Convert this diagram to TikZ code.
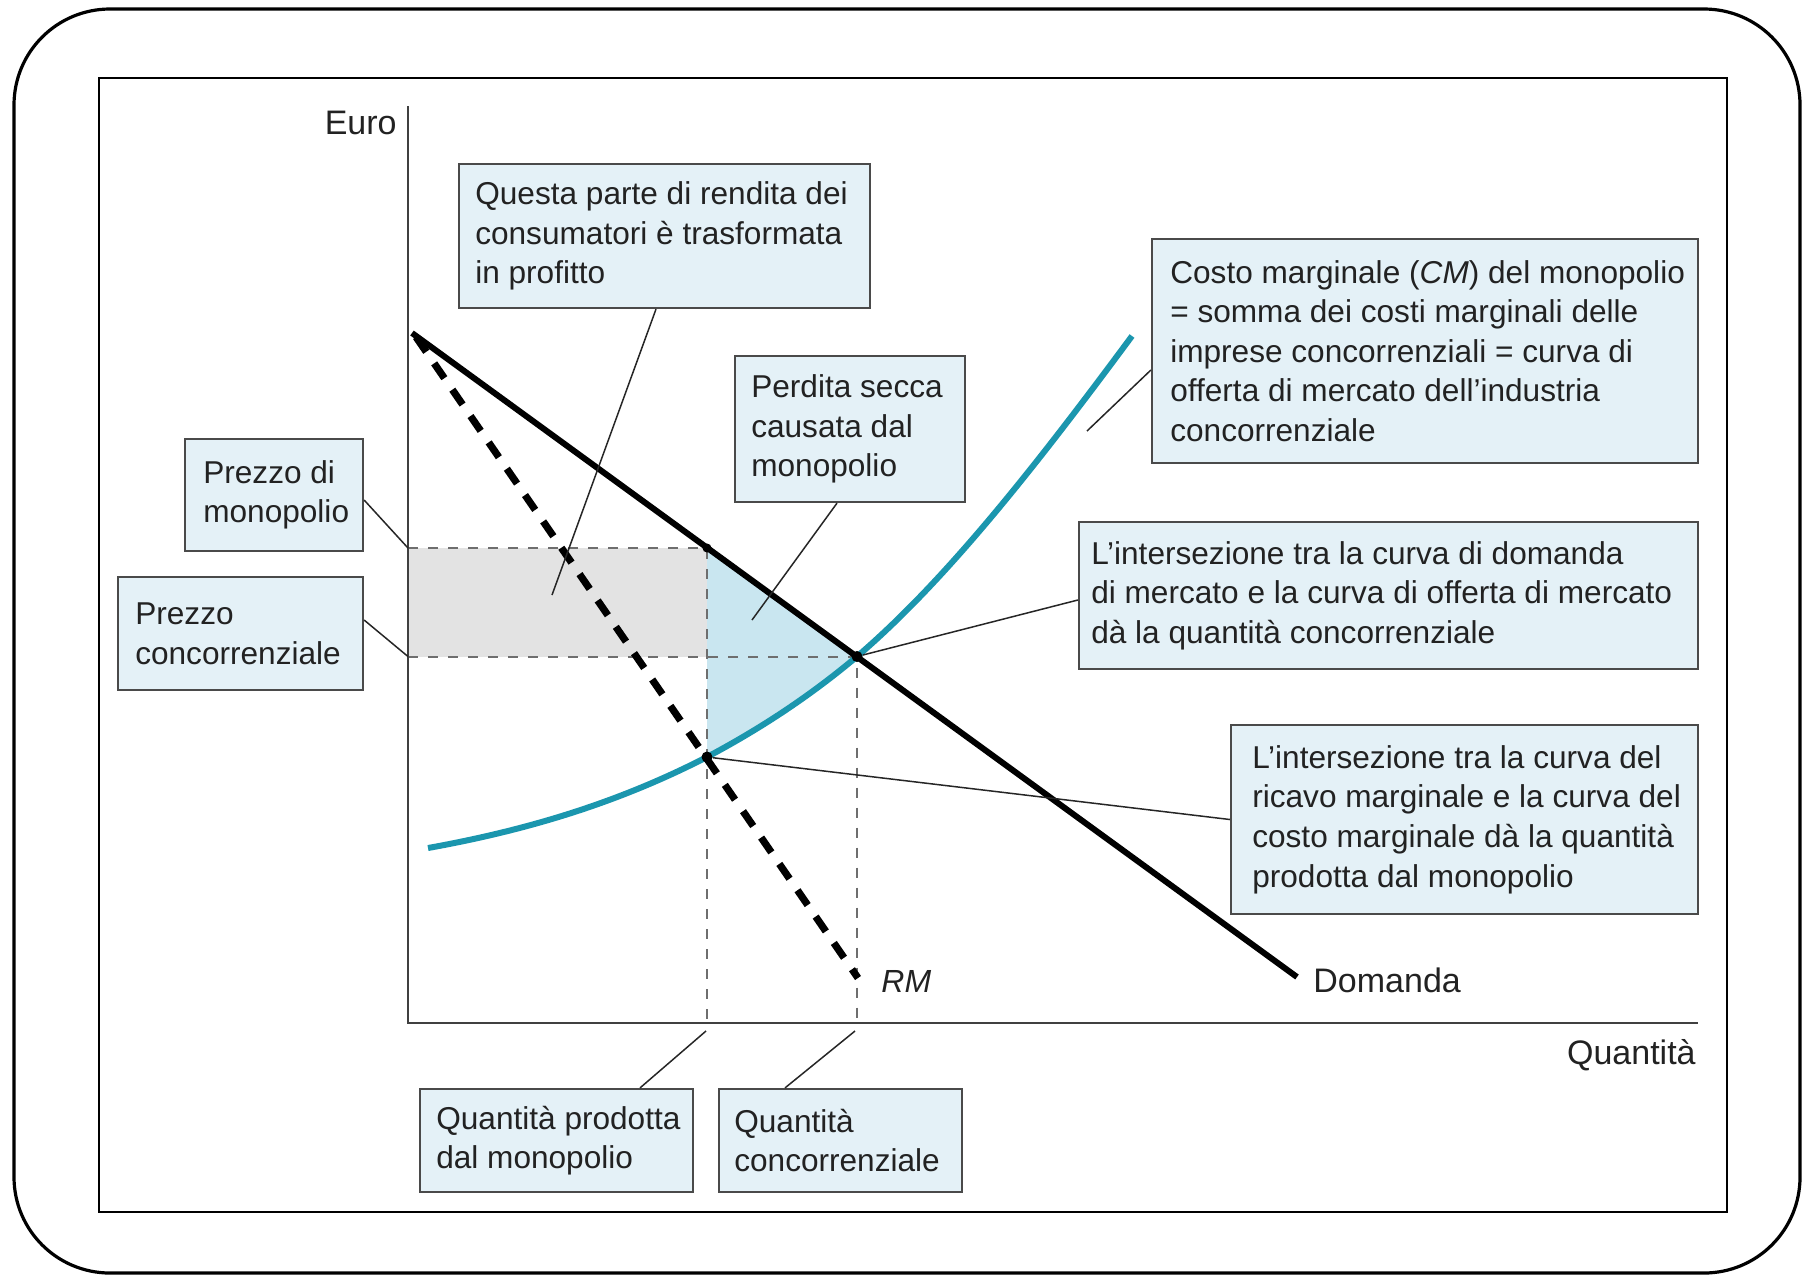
\documentclass[tikz,border=0pt]{standalone}
\usepackage{fontspec}
\setmainfont{Liberation Sans}
\usetikzlibrary{calc}
\definecolor{boxfill}{HTML}{E4F1F7}
\definecolor{boxdraw}{HTML}{4A4A4A}
\definecolor{teal1}{HTML}{1B96AE}
\definecolor{lblue}{HTML}{C9E6F0}
\definecolor{lgray}{HTML}{E3E3E3}
\definecolor{guidegray}{HTML}{6E6E6E}
\definecolor{txt}{HTML}{222222}
\tikzset{
  cbox/.style={draw=boxdraw, fill=boxfill, line width=1.1pt, inner sep=0pt},
  ctext/.style={anchor=west, align=left, inner sep=0pt, font=\fontsize{15.8}{19.8}\selectfont, text=txt},
  axlabel/.style={inner sep=0pt, font=\fontsize{17}{20}\selectfont, text=txt},
  leader/.style={draw=black!85, line width=0.75pt},
  guide/.style={draw=guidegray, line width=1pt, dash pattern=on 5pt off 5pt},
  demandline/.style={line width=3pt, black},
  rmline/.style={line width=3.6pt, black, dash pattern=on 9pt off 7pt},
  mcline/.style={line width=3pt, teal1},
  dotmark/.style={circle, fill=black, inner sep=0pt, minimum size=5.5pt},
}
\begin{document}
\begin{tikzpicture}[x=0.5pt,y=-0.5pt]
\useasboundingbox (0,0) rectangle (1803,1276);
% frames
\draw[line width=1.6pt, rounded corners=48pt] (14,9) rectangle (1800,1273);
\draw[line width=1.1pt] (99,78) rectangle (1727,1212);

% key coordinates
\coordinate (ytop) at (408,106);
\coordinate (orig) at (408,1023);
\coordinate (xend) at (1698,1023);
\coordinate (pm) at (707,548);
\coordinate (mp) at (707,757);
\coordinate (ce) at (857,656.5);
\coordinate (ypm) at (408,548);
\coordinate (ypc) at (408,656.5);
\coordinate (xqm) at (707,1023);
\coordinate (xqc) at (857,1023);
\coordinate (d0) at (412,333);
\coordinate (d1) at (1297,977);
\coordinate (r0) at (416,337);
\coordinate (r1) at (858,978);
\coordinate (c0) at (428,848);
\coordinate (c3) at (1132,336);

% shaded areas
\fill[lgray] (ypm) rectangle (707,656.5);
\fill[lblue] (pm) -- (ce) .. controls (806.7,698.8) and (756.3,730.8) .. (mp) -- cycle;

% guides
\draw[guide] (ypm) -- (pm) -- (xqm);
\draw[guide] (ypc) -- (ce) -- (xqc);

% axes
\draw[line width=1.1pt, black!75] (ytop) -- (orig) -- (xend);

% curves
\draw[mcline] (c0) .. controls (520.7,831.3) and (613.3,805.2) .. (mp)
  .. controls (756.3,730.8) and (806.7,698.8) .. (ce)
  .. controls (948.7,578) and (1040.3,459.8) .. (c3);
\draw[demandline] (d0) -- (d1);
\draw[rmline] (r0) -- (r1);

% dots
\node[dotmark, minimum size=4.5pt] (dpm) at (pm) {};
\node[dotmark] (dmp) at (mp) {};
\node[dotmark] (dce) at (ce) {};

% axis labels
\node[axlabel, anchor=base east] (euro) at (397,134) {Euro};
\node[axlabel, anchor=base east] (quant) at (1696,1064) {Quantità};
\node[axlabel, anchor=base west] (dom) at (1313,992) {Domanda};
\node[axlabel, anchor=base west, font=\fontsize{16}{19}\selectfont\itshape] (rm) at (881,992) {RM};

% leader end coordinates
\coordinate (qend) at (552,595);
\coordinate (pend) at (752,620);
\coordinate (cmend) at (1087,431);
\coordinate (qmend) at (706,1031);
\coordinate (qcend) at (855,1031);

% boxes
\node[cbox, minimum width=205.5pt, minimum height=72pt] (bq) at (664.5,236) {};
\node[cbox, minimum width=115pt, minimum height=73pt] (bp) at (850,429) {};
\node[cbox, minimum width=273pt, minimum height=112pt] (bc) at (1425,351) {};
\node[cbox, minimum width=309.5pt, minimum height=73.5pt] (bd) at (1388.5,595.5) {};
\node[cbox, minimum width=233.5pt, minimum height=94.5pt] (br) at (1464.5,819.5) {};
\node[cbox, minimum width=89pt, minimum height=56pt] (bpm) at (274,495) {};
\node[cbox, minimum width=122.5pt, minimum height=56.5pt] (bpc) at (240.5,633.5) {};
\node[cbox, minimum width=136.5pt, minimum height=51.5pt] (bqm) at (556.5,1140.5) {};
\node[cbox, minimum width=121.5pt, minimum height=51.5pt] (bqc) at (840.5,1140.5) {};

% leaders
\draw[leader] ([xshift=-4.25pt]bq.south) -- (qend);
\draw[leader] ([xshift=-6.5pt]bp.south) -- (pend);
\draw[leader] ([yshift=-9.5pt]bc.west) -- (cmend);
\draw[leader] ([yshift=-2.25pt]bd.west) -- (dce);
\draw[leader] (br.west) -- (dmp);
\draw[leader] ([yshift=-2.5pt]bpm.east) -- (ypm);
\draw[leader] ([yshift=6.75pt]bpc.east) -- (ypc);
\draw[leader] ([xshift=41.75pt]bqm.north) -- (qmend);
\draw[leader] ([xshift=-27.75pt]bqc.north) -- (qcend);

% box texts
\node[ctext] (tq) at ([xshift=8.5pt]bq.west) {Questa parte di rendita dei\\consumatori è trasformata\\in profitto};
\node[ctext] (tp) at ([xshift=8.5pt]bp.west) {Perdita secca\\causata dal\\monopolio};
\node[ctext] (tc) at ([xshift=9.5pt]bc.west) {Costo marginale (\textit{CM}) del monopolio\\= somma dei costi marginali delle\\imprese concorrenziali = curva di\\offerta di mercato dell’industria\\concorrenziale};
\node[ctext] (td) at ([xshift=6.5pt]bd.west) {L’intersezione tra la curva di domanda\\di mercato e la curva di offerta di mercato\\dà la quantità concorrenziale};
\node[ctext] (tr) at ([xshift=11pt]br.west) {L’intersezione tra la curva del\\ricavo marginale e la curva del\\costo marginale dà la quantità\\prodotta dal monopolio};
\node[ctext] (tpm) at ([xshift=9.5pt]bpm.west) {Prezzo di\\monopolio};
\node[ctext] (tpc) at ([xshift=9pt]bpc.west) {Prezzo\\concorrenziale};
\node[ctext] (tqm) at ([xshift=8.5pt]bqm.west) {Quantità prodotta\\dal monopolio};
\node[ctext] (tqc) at ([xshift=8pt]bqc.west) {Quantità\\concorrenziale};
\end{tikzpicture}
\end{document}
